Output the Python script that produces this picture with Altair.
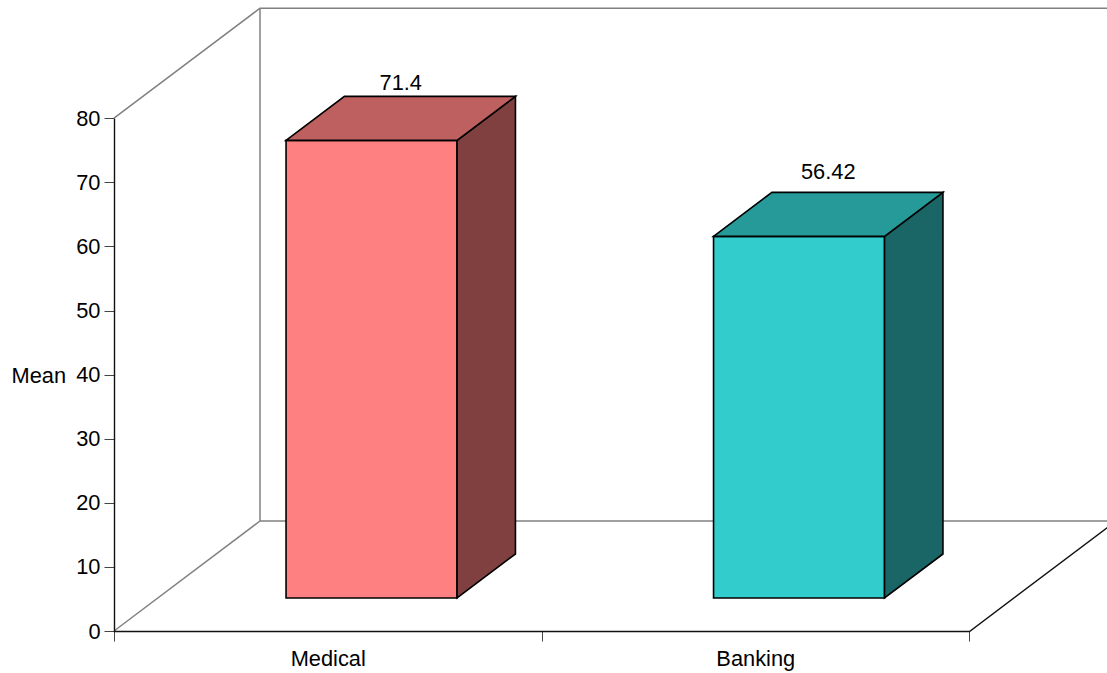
import altair as alt
import pandas as pd

categories = ["Medical", "Banking"]
means = [71.4, 56.42]
front_colors = ["#FF8080", "#33CCCC"]
top_colors = ["#BF6060", "#269999"]
side_colors = ["#804040", "#1A6666"]
y_ticks = [0, 10, 20, 30, 40, 50, 60, 70, 80]
label_lifts = [0.0, 1.1]  # extra height of each value label above its prism, in axis units

FONT = "Liberation Sans"
FONT_SIZE = 21.8
Y_MAX = 80
X_MAX = len(categories)

# Oblique projection: how far the back wall sits, in axis units.
WALL_DX = 0.3415
WALL_DY = 17.16
BAR_WIDTH = 0.4
BAR_OFFSET = 0.3   # share of the floor depth in front of the bar
BAR_DEPTH = 0.4    # share of the floor depth the bar occupies

x_scale = alt.Scale(domain=[0, 2.3228], range=[0, 993], nice=False, zero=False)
y_scale = alt.Scale(domain=[0, 98.44], range=[631, 0], nice=False, zero=False)

x_axis = alt.Axis(
    values=[0, 0.5, 1, 1.5, 2], domain=False, grid=False, tickSize=10, title=None,
    tickColor="#444444", tickOpacity=alt.expr("datum.value % 1 === 0 ? 1 : 0"),
    labelExpr="datum.value === 0.5 ? 'Medical' : datum.value === 1.5 ? 'Banking' : ''",
    labelFont=FONT, labelFontSize=FONT_SIZE, labelColor="#000000",
    labelPadding=7, labelOverlap=False, labelFlush=False,
)
y_axis = alt.Axis(
    values=y_ticks, domain=False, grid=False, tickSize=10, tickColor="#444444",
    labelFont=FONT, labelFontSize=FONT_SIZE, labelColor="#000000", labelPadding=4,
    title="Mean", titleAngle=0, titleFont=FONT, titleFontSize=FONT_SIZE,
    titleFontWeight="normal", titleColor="#000000", titleAlign="left",
    titleBaseline="middle", titleX=-103, titleY=375,
)

# Build the faces of each prism as x / upper / lower outlines.
face_rows, color_domain, color_range, label_rows = [], [], [], []
for i, (name, value) in enumerate(zip(categories, means)):
    x0 = i + 0.5 + BAR_OFFSET * WALL_DX - BAR_WIDTH / 2
    x1 = x0 + BAR_WIDTH
    y0 = BAR_OFFSET * WALL_DY
    y1 = y0 + value
    dx = BAR_DEPTH * WALL_DX
    dy = BAR_DEPTH * WALL_DY
    faces = {
        "front": (front_colors[i], [(x0, y1, y0), (x1, y1, y0)]),
        "side": (side_colors[i], [(x1, y1, y0), (x1 + dx, y1 + dy, y0 + dy)]),
        "top": (top_colors[i], [(x0, y1, y1), (x0 + dx, y1 + dy, y1),
                                (x1, y1 + dy, y1), (x1 + dx, y1 + dy, y1 + dy)]),
    }
    for face, (color, outline) in faces.items():
        key = f"{name} {face}"
        color_domain.append(key)
        color_range.append(color)
        for x, upper, lower in outline:
            face_rows.append({"face": key, "x": x, "upper": upper, "lower": lower})
    label_rows.append({"x": (x0 + x1 + dx) / 2, "y": y1 + dy + label_lifts[i], "label": f"{value:g}"})

faces_df = pd.DataFrame(face_rows)
labels_df = pd.DataFrame(label_rows)


def polylines(segments):
    rows = []
    for seg, points in enumerate(segments):
        for order, (x, y) in enumerate(points):
            rows.append({"seg": seg, "order": order, "x": x, "y": y})
    return pd.DataFrame(rows)


wall_df = polylines([
    [(0, Y_MAX), (WALL_DX, Y_MAX + WALL_DY), (X_MAX + WALL_DX, Y_MAX + WALL_DY)],
    [(WALL_DX, Y_MAX + WALL_DY), (WALL_DX, WALL_DY), (X_MAX + WALL_DX, WALL_DY)],
    [(0, 0), (WALL_DX, WALL_DY)],
])
frame_df = polylines([
    [(0, Y_MAX), (0, 0), (X_MAX, 0), (X_MAX + WALL_DX, WALL_DY)],
])

x_enc = alt.X("x:Q", scale=x_scale, axis=x_axis)
y_enc = alt.Y("y:Q", scale=y_scale, axis=y_axis)


def line_layer(df, color, width, offset=0.0):
    # Unclipped: the frame sits on the plot edge and the page border trims the overhang.
    return alt.Chart(df).mark_line(
        color=color, strokeWidth=width, xOffset=offset, yOffset=offset
    ).encode(x=x_enc, y=y_enc, detail="seg:N", order="order:Q")


prisms = alt.Chart(faces_df).mark_area(
    stroke="#000000", strokeWidth=1.6, strokeJoin="miter", orient="vertical"
).encode(
    x=x_enc,
    y=alt.Y("upper:Q", scale=y_scale, axis=y_axis, stack=None),
    y2="lower:Q",
    fill=alt.Fill("face:N", scale=alt.Scale(domain=color_domain, range=color_range), legend=None),
    detail="face:N",
)

value_labels = alt.Chart(labels_df).mark_text(
    font=FONT, fontSize=FONT_SIZE, color="#000000", baseline="bottom", dy=-1
).encode(x=x_enc, y=y_enc, text="label:N")

chart = (
    alt.layer(line_layer(wall_df, "#808080", 1.5), prisms,
              line_layer(frame_df, "#111111", 1.4, offset=0.5), value_labels)
    .properties(
        width=993, height=631,
        autosize=alt.AutoSizeParams(type="none"),
        padding={"left": 114, "top": 0, "right": 0, "bottom": 42},
        background="#FFFFFF",
    )
    .configure_view(stroke=None)
)

chart.save("out.html", embed_options={"renderer": "svg", "actions": False})
